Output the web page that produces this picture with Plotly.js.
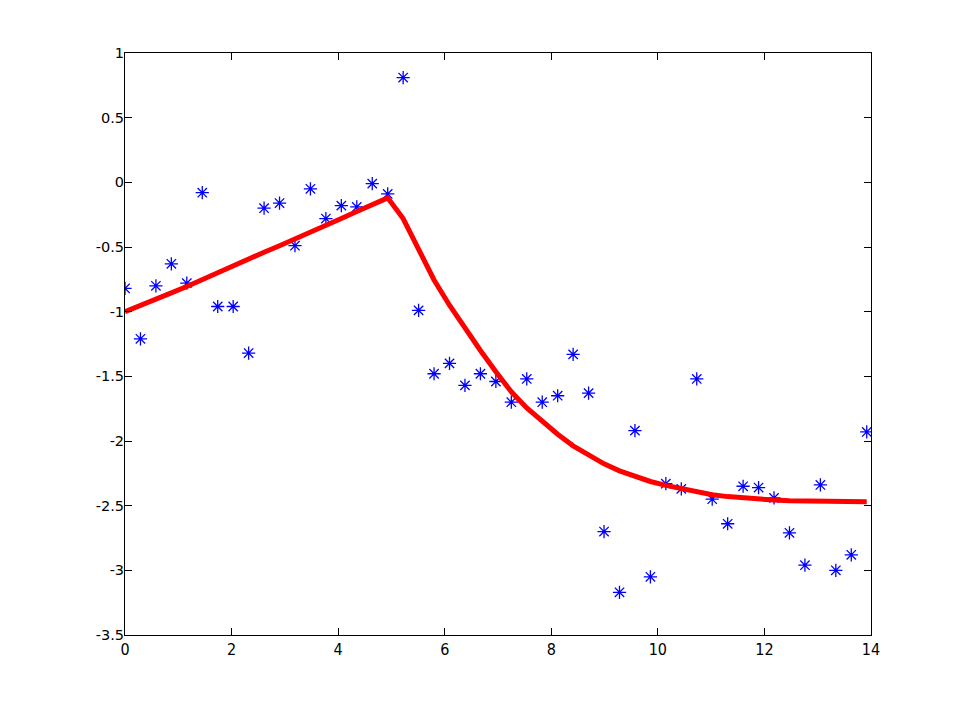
<!DOCTYPE html>
<html>
<head>
<meta charset="utf-8">
<script src="https://cdn.plot.ly/plotly-3.0.1.min.js"></script>
<style>
  html, body { margin: 0; padding: 0; background: #fff; }
  #chart { width: 962px; height: 713px; }
</style>
</head>
<body>
<div id="chart"></div>
<script>
'use strict';

// sample positions, step 0.29
const x_data = [
    0.00, 0.29, 0.58, 0.87, 1.16, 1.45, 1.74, 2.03, 2.32, 2.61,
    2.90, 3.19, 3.48, 3.77, 4.06, 4.35, 4.64, 4.93, 5.22, 5.51,
    5.80, 6.09, 6.38, 6.67, 6.96, 7.25, 7.54, 7.83, 8.12, 8.41,
    8.70, 8.99, 9.28, 9.57, 9.86, 10.15, 10.44, 10.73, 11.02, 11.31,
    11.60, 11.89, 12.18, 12.47, 12.76, 13.05, 13.34, 13.63, 13.92
];

// measured values (blue asterisks)
const y_measured = [
    -0.82, -1.21, -0.80, -0.63, -0.78, -0.08, -0.96, -0.96, -1.32, -0.20,
    -0.16, -0.49, -0.05, -0.28, -0.18, -0.19, -0.01, -0.09, 0.81, -0.99,
    -1.48, -1.40, -1.57, -1.48, -1.54, -1.70, -1.52, -1.70, -1.65, -1.33,
    -1.63, -2.70, -3.17, -1.92, -3.05, -2.33, -2.37, -1.52, -2.45, -2.64,
    -2.35, -2.36, -2.44, -2.71, -2.96, -2.34, -3.00, -2.88, -1.93
];

// fitted curve (red line)
const y_fit = [
    -1.00, -0.955, -0.905, -0.855, -0.805, -0.75, -0.695, -0.645, -0.59, -0.54,
    -0.49, -0.44, -0.39, -0.335, -0.28, -0.225, -0.172, -0.12, -0.28, -0.52,
    -0.755, -0.95, -1.13, -1.30, -1.465, -1.62, -1.745, -1.85, -1.948, -2.037,
    -2.112, -2.177, -2.231, -2.276, -2.313, -2.343, -2.37, -2.395, -2.415, -2.43,
    -2.442, -2.451, -2.457, -2.462, -2.465, -2.467, -2.469, -2.47, -2.47
];

const x_ticks = [0, 2, 4, 6, 8, 10, 12, 14];
const y_ticks = [1, 0.5, 0, -0.5, -1, -1.5, -2, -2.5, -3, -3.5];
const y_tick_labels = ["1", "0.5", "0", "-0.5", "-1", "-1.5", "-2", "-2.5", "-3", "-3.5"];

const data = [
    {
        x: x_data,
        y: y_measured,
        type: "scatter",
        mode: "markers",
        marker: {
            symbol: "asterisk-open",
            size: 11,
            color: "#0000ff",
            line: { color: "#0000ff", width: 1.3 }
        },
        hoverinfo: "x+y"
    },
    {
        x: x_data,
        y: y_fit,
        type: "scatter",
        mode: "lines",
        line: { color: "#ff0000", width: 5 },
        hoverinfo: "x+y"
    }
];

const axis_common = {
    showgrid: false,
    zeroline: false,
    showline: true,
    mirror: "ticks",
    linecolor: "#000",
    linewidth: 1,
    ticks: "inside",
    ticklen: 7,
    tickwidth: 1,
    tickcolor: "#000"
};

const layout = {
    width: 962,
    height: 713,
    margin: { l: 125, r: 91, t: 53, b: 78 },
    paper_bgcolor: "#fff",
    plot_bgcolor: "#fff",
    showlegend: false,
    font: { family: "DejaVu Sans, sans-serif", size: 14, color: "#000" },
    xaxis: Object.assign({}, axis_common, {
        range: [0, 14],
        tickvals: x_ticks,
        ticktext: x_ticks.map(String),
        ticklabelstandoff: 0,
        tickfont: { family: "Liberation Sans Narrow, DejaVu Sans Condensed, sans-serif", size: 16 }
    }),
    yaxis: Object.assign({}, axis_common, {
        range: [-3.5, 1],
        tickvals: y_ticks,
        ticktext: y_tick_labels,
        ticklabelstandoff: -3,
        tickfont: { family: "DejaVu Sans, sans-serif", size: 14.5 }
    })
};

Plotly.newPlot("chart", data, layout, { displayModeBar: false, staticPlot: true });
</script>
</body>
</html>
